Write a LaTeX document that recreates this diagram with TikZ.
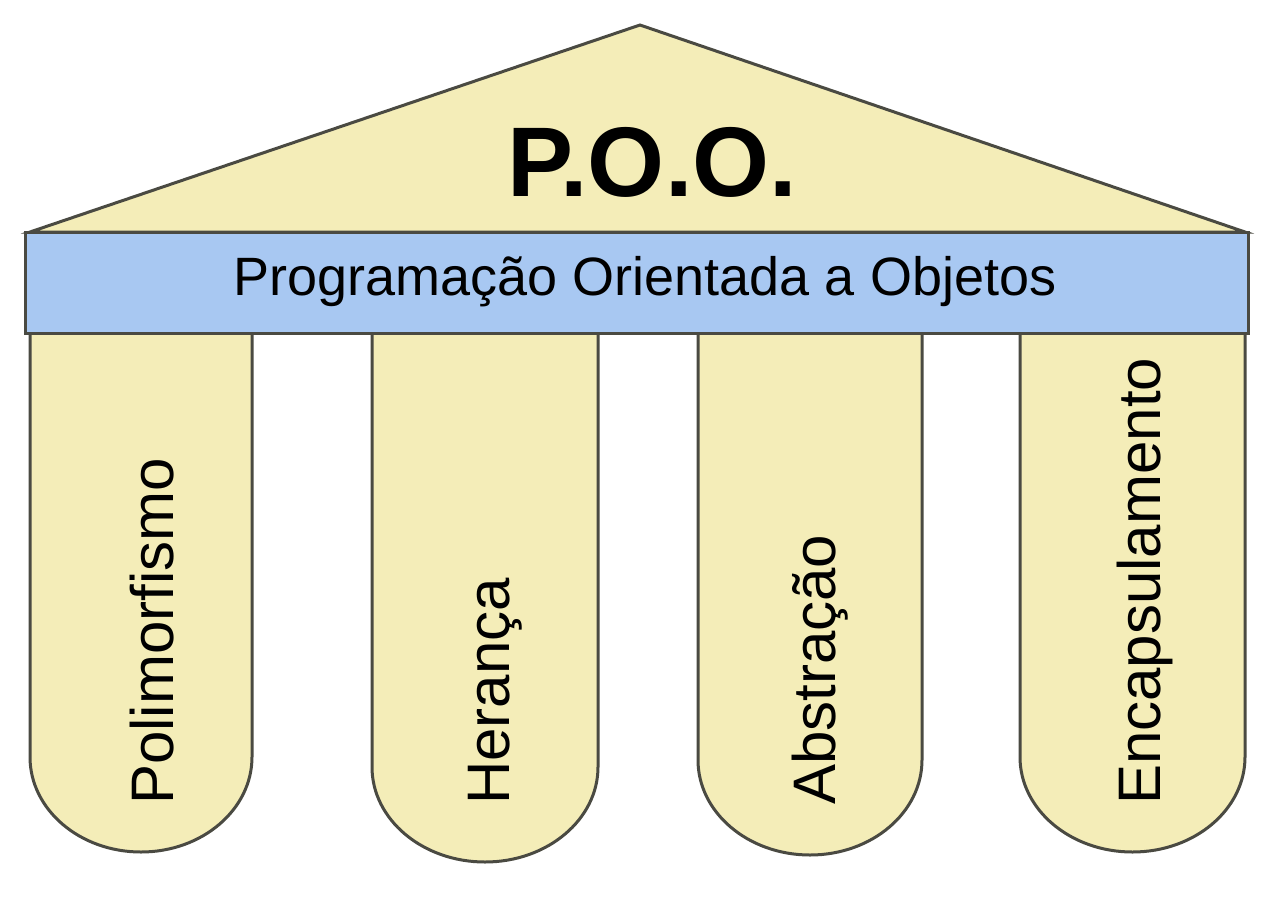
\documentclass[tikz,border=0pt]{standalone}
\usepackage{fontspec}
\setmainfont{Liberation Sans}
\definecolor{roof}{HTML}{F4EDB8}
\definecolor{band}{HTML}{A8C8F2}
\definecolor{edge}{HTML}{4A4A42}
\begin{document}
\begin{tikzpicture}[x=1pt,y=-1pt,
  part/.style={draw=edge,line width=3pt,fill=roof},
  coltext/.style={rotate=90,anchor=west,inner sep=0pt,font=\fontsize{60}{60}\selectfont}]
\useasboundingbox (0,0) rectangle (1280,898);
\fill[white] (0,0) rectangle (1280,898);
\draw[part] (30,232) coordinate (rl) -- (640,25) coordinate (apex) -- (1245,232) coordinate (rr) -- cycle;
\node (poo) at (652,162) {\fontsize{99}{99}\selectfont\bfseries P.O.O.};
% columns
\foreach \n/\l/\r/\b in {c1/30/252/852,c2/372/598/862,c3/698/922/855,c4/1020/1245/852}{
  \draw[part] (\l,330) -- (\l,\b-95) arc[start angle=180,end angle=0,x radius={(\r-\l)/2},y radius=95] -- (\r,330);
}
\node[coltext] (t1) at (152,805) {Polimorfismo};
\node[coltext] (t2) at (495,805) {Herança};
\node[coltext] (t3) at (820,805) {Abstração};
\node[coltext] (t4) at (1145,805) {Encapsulamento};
\draw[draw=edge,line width=3pt,fill=band] (25,232) rectangle (1248,333);
\node (sub) at (645,282) {\fontsize{54}{54}\selectfont Programação Orientada a Objetos};
\end{tikzpicture}
\end{document}
